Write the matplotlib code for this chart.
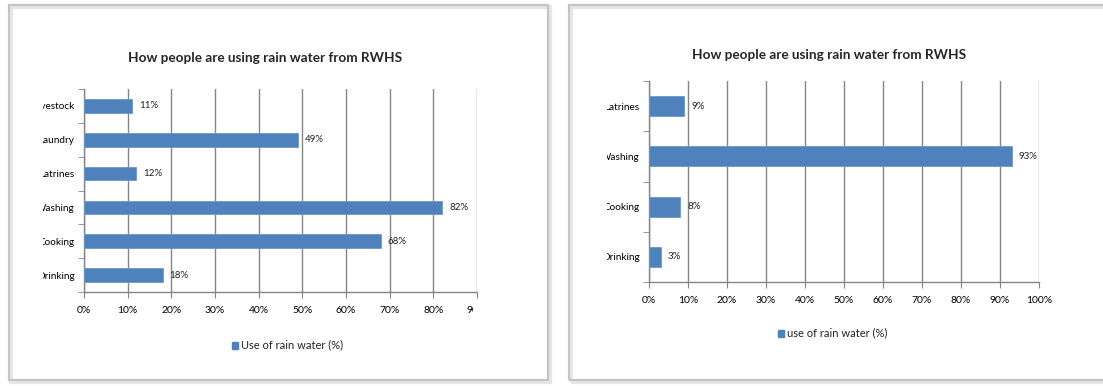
# two Excel-style bar charts of rain water use from RWHS, side by side
import matplotlib
matplotlib.use('Agg')
import matplotlib.pyplot as plt
from matplotlib.patches import Rectangle
from matplotlib.transforms import Bbox, TransformedBbox
from matplotlib.ticker import FixedLocator, FuncFormatter

plt.rcParams['font.family'] = ['Lato', 'DejaVu Sans']

### data ###
title = "How people are using rain water from RWHS"

uses_a = ["Livestock", "Laundry", "Latrines", "Washing", "Cooking", "Drinking"]
share_a = [11, 49, 12, 82, 68, 18]
legend_a = "Use of rain water (%)"

uses_b = ["Latrines", "Washing", "Cooking", "Drinking"]
share_b = [9, 93, 8, 3]
legend_b = "use of rain water (%)"

BAR = '#4F81BD'
GRID = '#858585'

W, H = 1103, 386
fig = plt.figure(figsize=(W / 100, H / 100), dpi=100)


def px_box(x0, y0, x1, y1):
	# pixel rectangle (top-left origin) -> figure fraction bbox
	return Bbox.from_extents(x0 / W, 1 - y1 / H, x1 / W, 1 - y0 / H)


def panel_frame(x0, y0, x1, y1):
	# soft shadow and light grey border round each chart
	for off, col, lw in [(2, '#e6e6e6', 3.0), (0, '#c4c4c4', 1.6)]:
		b = px_box(x0 + off, y0 + off, x1 + off, y1 + off)
		fig.patches.append(Rectangle((b.x0, b.y0), b.width, b.height,
			transform=fig.transFigure, fill=False, edgecolor=col, lw=lw, zorder=0))


def bar_chart(rect, cats, vals, xmax, legend_text, title_xy, legend_xy, clip_px):
	ax = fig.add_axes(rect)
	y = list(range(len(cats)))
	ax.barh(y, vals, height=0.4, color=BAR, edgecolor='#6f96c8', lw=0.6, zorder=3)
	for yi, v in zip(y, vals):
		ax.annotate("%d%%" % v, (v, yi), xytext=(5, 0), textcoords='offset points',
			va='center', ha='left', fontsize=7, color='#222222')
	ax.set_xlim(0, xmax)
	ax.set_ylim(len(cats) - 0.5, -0.5)
	ax.set_xticks(range(0, xmax + 1, 10))
	ax.xaxis.set_major_formatter(FuncFormatter(lambda v, p: "%d%%" % v))
	ax.set_yticks(y)
	ax.set_yticklabels(cats)
	ax.yaxis.set_minor_locator(FixedLocator([i - 0.5 for i in range(len(cats) + 1)]))
	ax.tick_params(axis='y', which='major', length=0, pad=7, labelsize=7.2)
	ax.tick_params(axis='y', which='minor', length=4, color=GRID, direction='out')
	ax.tick_params(axis='x', length=4, color=GRID, labelsize=7.5, pad=6)
	ax.grid(axis='x', color=GRID, lw=1.0, zorder=0)
	ax.set_axisbelow(True)
	for s in ['top', 'right']:
		ax.spines[s].set_visible(False)
	for s in ['left', 'bottom']:
		ax.spines[s].set_color(GRID)
		ax.spines[s].set_linewidth(1.0)
	# tick labels are cut by the chart's plot region
	clip = TransformedBbox(px_box(*clip_px), fig.transFigure)
	for lbl in ax.get_yticklabels() + ax.get_xticklabels():
		lbl.set_clip_on(True)
		lbl.set_clip_box(clip)
	fig.text(title_xy[0] / W, 1 - title_xy[1] / H, title, ha='center', va='center',
		fontsize=9.8, fontweight='bold', color='#262626')
	lx, ly = legend_xy
	fig.patches.append(Rectangle((lx / W, 1 - (ly + 3.5) / H), 6 / W, 7 / H,
		transform=fig.transFigure, color=BAR))
	fig.text((lx + 9) / W, 1 - ly / H, legend_text, ha='left', va='center',
		fontsize=8, color='#222222')
	return ax


panel_frame(9, 5, 548, 380)
panel_frame(569, 5, 1110, 380)

bar_chart([84 / W, 1 - 292 / H, 393 / W, 203 / H], uses_a, share_a, 90, legend_a,
	(265, 58), (232, 345), (43, 0, 472.5, H))
bar_chart([649 / W, 1 - 282 / H, 390 / W, 201 / H], uses_b, share_b, 100, legend_b,
	(829, 55), (778, 333), (607, 0, W, H))

fig.savefig("out.png", dpi=100, facecolor='white')
